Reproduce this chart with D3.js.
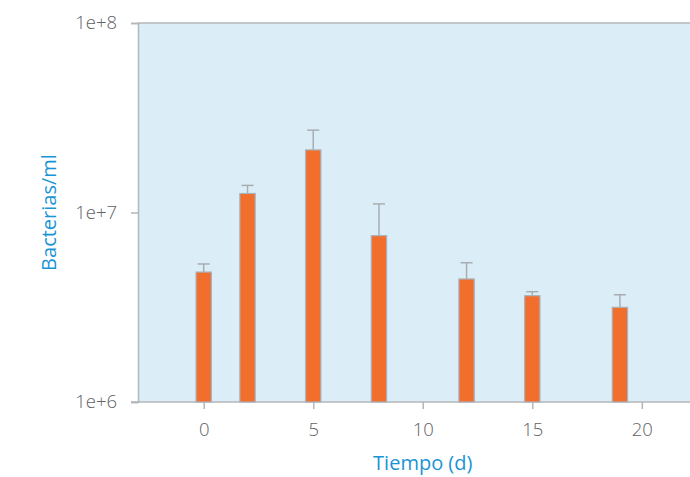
<!DOCTYPE html>
<html>
<head>
<meta charset="utf-8">
<script src="https://cdn.jsdelivr.net/npm/d3@7"></script>
<style>
  html, body { margin: 0; padding: 0; background: #ffffff; }
  svg { display: block; font-family: "Open Sans", "Noto Sans", sans-serif; }
</style>
</head>
<body>
<svg id="chart" width="690" height="477"></svg>
<script>
// Bacterial counts over time (mean with upper error bar)
const days = [0, 2, 5, 8, 12, 15, 19];
const counts = [4.85e6, 12.6e6, 21.4e6, 7.55e6, 4.46e6, 3.64e6, 3.16e6];
const upperErr = [5.35e6, 13.9e6, 27.2e6, 11.1e6, 5.43e6, 3.82e6, 3.68e6];
const xTicks = [0, 5, 10, 15, 20];
const yTicks = [1e6, 1e7, 1e8];
const yTickLabels = ["1e+6", "1e+7", "1e+8"];

const svg = d3.select("#chart");
const plotLeft = 138, plotRight = 690, plotTop = 23, plotBottom = 402;

const x = d3.scaleLinear().domain([-3, 22.2]).range([plotLeft, plotRight]);
const y = d3.scaleLog().domain([1e6, 1e8]).range([plotBottom, plotTop]);

const gridColor = "#b4b6b8";
const textColor = "#5f6164";
const titleColor = "#1a94d4";

// plot background
svg.append("rect")
  .attr("x", plotLeft).attr("y", plotTop)
  .attr("width", plotRight - plotLeft).attr("height", plotBottom - plotTop)
  .attr("fill", "#dbeef8");

// y axis
const yAxis = d3.axisLeft(y)
  .tickValues(yTicks)
  .tickFormat((d, i) => yTickLabels[i])
  .tickSize(7)
  .tickPadding(14);
const gy = svg.append("g").attr("transform", `translate(${plotLeft},0)`).call(yAxis)
  .attr("font-family", null).attr("font-size", null);
gy.select(".domain").attr("stroke", gridColor).attr("stroke-width", 1.5);
gy.selectAll(".tick line").attr("stroke", gridColor).attr("stroke-width", 1.5);
gy.selectAll(".tick text").attr("fill", textColor)
  .style("font-size", "18.5px").style("font-weight", 300);

// top boundary line
svg.append("line")
  .attr("x1", plotLeft).attr("x2", plotRight)
  .attr("y1", plotTop).attr("y2", plotTop)
  .attr("stroke", gridColor).attr("stroke-width", 1.5);

// x axis
const xAxis = d3.axisBottom(x)
  .tickValues(xTicks)
  .tickFormat(d3.format("d"))
  .tickSize(7)
  .tickPadding(14);
const gx = svg.append("g").attr("transform", `translate(0,${plotBottom})`).call(xAxis)
  .attr("font-family", null).attr("font-size", null);
gx.select(".domain").attr("stroke", gridColor).attr("stroke-width", 1.5)
  .attr("d", `M${plotLeft - 7},0H${plotRight}`);
gx.selectAll(".tick line").attr("stroke", gridColor).attr("stroke-width", 1.5);
gx.selectAll(".tick text").attr("fill", textColor)
  .style("font-size", "18.5px").style("font-weight", 300);

// bars
const barW = x(0.7) - x(0);
const errColor = "#a9adb2";

svg.append("g").selectAll("line")
  .data(days)
  .join("line")
  .attr("x1", d => x(d)).attr("x2", d => x(d))
  .attr("y1", (d, i) => y(counts[i]))
  .attr("y2", (d, i) => y(upperErr[i]))
  .attr("stroke", errColor).attr("stroke-width", 1.5);

svg.append("g").selectAll("line")
  .data(days)
  .join("line")
  .attr("x1", d => x(d) - 6).attr("x2", d => x(d) + 6)
  .attr("y1", (d, i) => y(upperErr[i]))
  .attr("y2", (d, i) => y(upperErr[i]))
  .attr("stroke", errColor).attr("stroke-width", 1.5);

svg.append("g").selectAll("rect")
  .data(days)
  .join("rect")
  .attr("x", d => x(d) - barW / 2)
  .attr("y", (d, i) => y(counts[i]))
  .attr("width", barW)
  .attr("height", (d, i) => y(1e6) - y(counts[i]))
  .attr("fill", "#f26e2d")
  .attr("stroke", "#a9b3bb")
  .attr("stroke-width", 1.2);

// axis titles
svg.append("text")
  .attr("x", x(10)).attr("y", 470)
  .attr("text-anchor", "middle")
  .attr("fill", titleColor)
  .style("font-size", "20px")
  .text("Tiempo (d)");

svg.append("text")
  .attr("transform", `translate(56,${(plotTop + plotBottom) / 2}) rotate(-90)`)
  .attr("text-anchor", "middle")
  .attr("fill", titleColor)
  .style("font-size", "20px")
  .text("Bacterias/ml");
</script>
</body>
</html>
